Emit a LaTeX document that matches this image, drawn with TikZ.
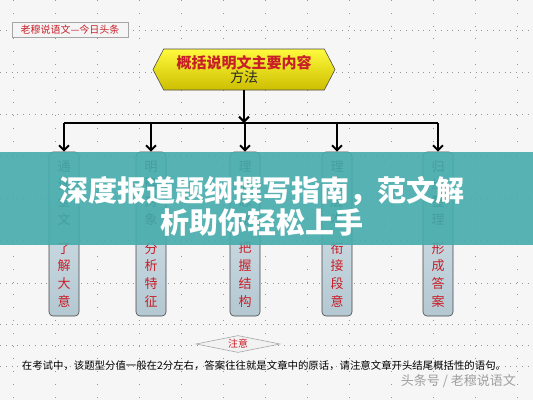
\documentclass[tikz,border=0pt]{standalone}
\usepackage{fontspec}
\newfontfamily\cjk{Noto Sans CJK SC}
\usetikzlibrary{shapes.geometric,shapes.symbols,arrows.meta}
\definecolor{bgpaper}{RGB}{246,246,246}
\definecolor{griddot}{RGB}{150,150,150}
\definecolor{labelred}{RGB}{200,30,40}
\definecolor{yellowtop}{RGB}{255,250,60}
\definecolor{yellowbot}{RGB}{205,190,0}
\definecolor{boxtop}{RGB}{220,232,238}
\definecolor{boxbot}{RGB}{180,200,210}
\definecolor{banner}{RGB}{70,172,172}
\definecolor{darktext}{RGB}{40,40,40}
\newcommand\dkc[1]{\textcolor{darktext}{#1}}
\newcommand\rdc[1]{\textcolor{labelred}{#1}}
\newcommand\steptext[8]{\dkc{#1}\\\dkc{#2}\\\dkc{#3}\\\dkc{#4}\\[11pt]\rdc{#5}\\\rdc{#6}\\\rdc{#7}\\\rdc{#8}}
\tikzset{
  every node/.style={font=\cjk},
  hgrid/.style={griddot, line width=0.7pt, dash pattern=on 0.8pt off 5pt},
  vgrid/.style={griddot, line width=0.7pt, dash pattern=on 0.8pt off 12pt},
  toplabel/.style={draw=gray!70, fill=gray!8, line width=0.8pt, text=labelred, font=\cjk\fontsize{10}{12}\selectfont, minimum width=116pt, minimum height=15pt, inner sep=1pt},
  mainbox/.style={signal, signal to=west and east, signal pointer angle=125, draw=gray!60!black, line width=0.6pt, top color=yellowtop, bottom color=yellowbot, minimum width=182pt, minimum height=41pt, inner sep=1pt, align=center},
  stepbox/.style={draw=gray!55!black, line width=0.6pt, rounded corners=4pt, top color=boxtop, bottom color=boxbot, minimum width=30pt, minimum height=164pt, inner sep=0pt, align=center, font=\cjk\fontsize{13}{17.7}\selectfont},
  conn/.style={line width=2pt, black},
  arr/.style={conn, -{Straight Barb[length=5pt,width=10pt,line width=2pt]}},
  notebox/.style={diamond, aspect=5, draw=gray!70, fill=gray!10, line width=0.6pt, minimum width=84pt, minimum height=17pt, inner sep=0pt, text=labelred, font=\cjk\fontsize{10}{12}\selectfont}
}
\begin{document}
\begin{tikzpicture}[x=1pt,y=-1pt]
\useasboundingbox (0,0) rectangle (533,400);
\fill[bgpaper] (0,0) rectangle (533,400);
% grid
\foreach \gy in {30,72,114,156,198,240,283,324,345,366}
  \draw[hgrid] (0,\gy) -- (533,\gy);
\foreach \gx in {13,55,97,139,181,223,265,307,349,391,433,475,517}
  \draw[vgrid] (\gx,0) -- (\gx,400);

% top-left label
\node[toplabel] (lbl) at (70,29.5) {老穆说语文—今日头条};

% main box
\node[mainbox] (top) at (244,69.5) {\textcolor{labelred}{\bfseries\fontsize{15}{17}\selectfont 概括说明文主要内容}\\[-1pt]\textcolor{darktext}{\fontsize{14}{16}\selectfont 方法}};

% step boxes
\node[stepbox] (b1) at (64,234) {\steptext{通}{读}{全}{文}{了}{解}{大}{意}};
\node[stepbox] (b2) at (151,234) {\steptext{明}{确}{对}{象}{分}{析}{特}{征}};
\node[stepbox] (b3) at (245,234) {\steptext{理}{清}{思}{路}{把}{握}{结}{构}};
\node[stepbox] (b4) at (337,234) {\steptext{理}{清}{层}{次}{衔}{接}{段}{意}};
\node[stepbox] (b5) at (438,234) {\steptext{归}{纳}{整}{理}{形}{成}{答}{案}};

% connectors
\coordinate (hub) at (244,123);
\draw[arr] (top.south) -- (hub);
\draw[conn] (b1.north |- hub) -- (b5.north |- hub);
\foreach \b in {b1,b2,b3,b4,b5}
  \draw[arr] (\b.north |- hub) -- (\b.north);

% banner
\fill[banner, opacity=0.9] (0,152) rectangle (533,245);
\node[text=white, align=center, font=\cjk\bfseries\fontsize{29}{32}\selectfont] (title) at (262,206) {深度报道题纲撰写指南，范文解\\析助你轻松上手};

% note
\node[notebox] (note) at (238,344) {注意};
\node[text=black, font=\cjk\fontsize{10.4}{12}\selectfont, inner sep=0pt] (notetext) at (264,366) {在考试中，该题型分值一般在2分左右，答案往往就是文章中的原话，请注意文章开头结尾概括性的语句。};

% watermark
\node[text=gray!75, font=\cjk\fontsize{13}{15}\selectfont, anchor=east, inner sep=0pt] (wm) at (516,381) {头条号 / 老穆说语文};
\end{tikzpicture}
\end{document}
